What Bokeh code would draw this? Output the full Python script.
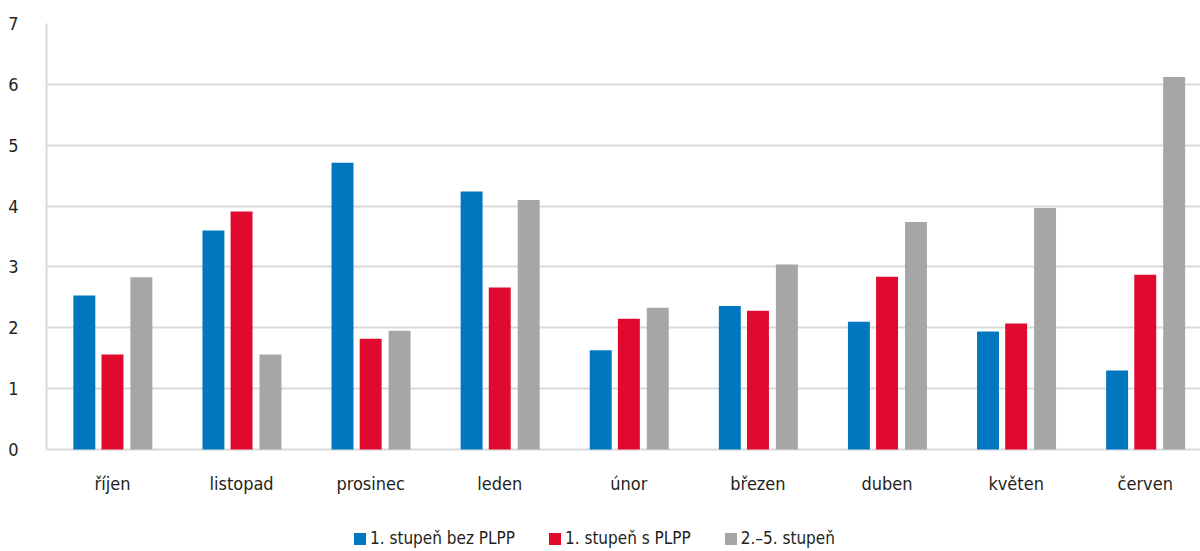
from bokeh.plotting import figure
from bokeh.models import Range1d, ColumnDataSource, Legend, LegendItem, FixedTicker
from bokeh.core.properties import value
from bokeh.embed import file_html
from bokeh.resources import INLINE

months = ["říjen", "listopad", "prosinec", "leden", "únor", "březen", "duben", "květen", "červen"]
series_names = ["1. stupeň bez PLPP", "1. stupeň s PLPP", "2.–5. stupeň"]
bez_plpp = [2.53, 3.60, 4.71, 4.24, 1.63, 2.36, 2.10, 1.94, 1.30]
s_plpp = [1.56, 3.91, 1.82, 2.66, 2.15, 2.28, 2.84, 2.07, 2.87]
stupen_2_5 = [2.83, 1.56, 1.95, 4.10, 2.33, 3.04, 3.74, 3.97, 6.12]
y_ticks = [0, 1, 2, 3, 4, 5, 6, 7]

colors = ["#0077bf", "#df0a2e", "#a6a6a6"]
offsets = [-0.218, 0.0, 0.224]
FONT = "DejaVu Sans Condensed"
TXT = "#231f20"

# frame spans to the bottom of the canvas; value 0 sits at the reference baseline
p = figure(width=1200, height=551, output_backend="svg", toolbar_location=None,
           x_range=Range1d(-0.011, 8.928), y_range=Range1d(-1.676, 7),
           min_border_left=46, min_border_right=0, min_border_top=23, min_border_bottom=0)
p.outline_line_color = None
p.background_fill_color = "white"

centers = [i + 0.5 for i in range(len(months))]
renderers = []
for vals, col, off in zip([bez_plpp, s_plpp, stupen_2_5], colors, offsets):
    src = ColumnDataSource(dict(x=[c + off for c in centers], top=vals))
    r = p.vbar(x="x", top="top", bottom=0, width=0.17, source=src, fill_color=col, line_color=None)
    renderers.append(r)

# month labels under the baseline
lab_src = ColumnDataSource(dict(x=centers, y=[0] * len(months), text=months))
p.text(x="x", y="y", text="text", source=lab_src, y_offset=34,
       text_align="center", text_baseline="middle",
       text_font=value(FONT), text_font_size=value("18px"), text_color=TXT)

p.xaxis.visible = False
p.xgrid.visible = False
p.ygrid.grid_line_color = "#d9d9d9"
p.ygrid.grid_line_width = 2
p.ygrid.ticker = FixedTicker(ticks=y_ticks)

p.yaxis.ticker = FixedTicker(ticks=y_ticks)
p.yaxis.bounds = (0, 7)
p.yaxis.axis_line_color = "#d9d9d9"
p.yaxis.axis_line_width = 2
p.yaxis.major_tick_line_color = None
p.yaxis.minor_tick_line_color = None
p.yaxis.major_label_standoff = 22
p.yaxis.major_label_text_font = FONT
p.yaxis.major_label_text_font_size = "18px"
p.yaxis.major_label_text_color = TXT

items = [LegendItem(label=n, renderers=[r]) for n, r in zip(series_names, renderers)]
legend = Legend(items=items, orientation="horizontal", location=(306, 3),
                glyph_width=15, glyph_height=15, label_standoff=3, spacing=32,
                padding=0, margin=0, border_line_color=None, background_fill_alpha=0,
                label_text_font=FONT, label_text_font_size="17px", label_text_color=TXT)
p.add_layout(legend, "center")

open("out.html", "w").write(file_html(p, INLINE))
